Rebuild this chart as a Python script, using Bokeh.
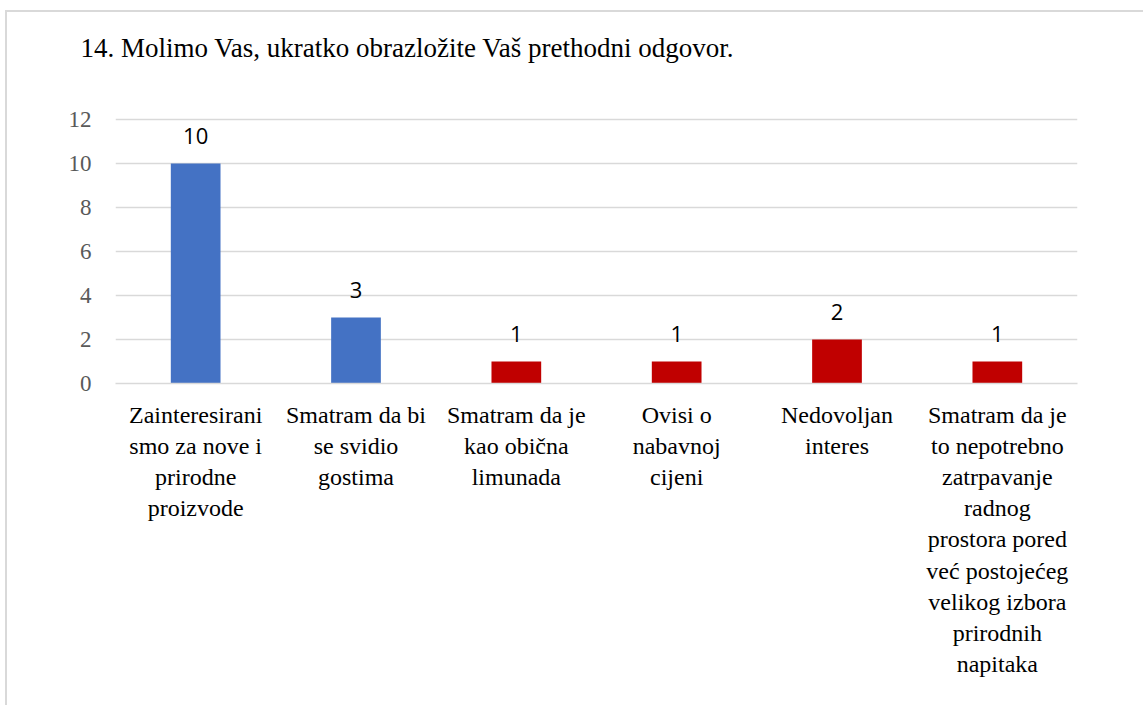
from bokeh.plotting import figure
from bokeh.models import FactorRange, Range1d, FixedTicker, ColumnDataSource
from bokeh.core.properties import value
from bokeh.embed import file_html
from bokeh.resources import INLINE

categories = [
    "Zainteresirani\nsmo za nove i\nprirodne\nproizvode",
    "Smatram da bi\nse svidio\ngostima",
    "Smatram da je\nkao obična\nlimunada",
    "Ovisi o\nnabavnoj\ncijeni",
    "Nedovoljan\ninteres",
    "Smatram da je\nto nepotrebno\nzatrpavanje\nradnog\nprostora pored\nveć postojećeg\nvelikog izbora\nprirodnih\nnapitaka",
]
values = [10, 3, 1, 1, 2, 1]
bar_colors = ["#4472C4", "#4472C4", "#C00000", "#C00000", "#C00000", "#C00000"]
y_ticks = [0, 2, 4, 6, 8, 10, 12]
title_text = "14. Molimo Vas, ukratko obrazložite Vaš prethodni odgovor."
SERIF = "Liberation Serif"

source = ColumnDataSource(dict(cat=categories, val=values, color=bar_colors,
                               lab=[str(v) for v in values]))

# frame extends above 12 so that the title sits at the top of the chart area
p = figure(x_range=FactorRange(*categories), y_range=Range1d(0, 14.32),
           width=1138, height=695, output_backend="svg", toolbar_location=None,
           min_border_left=108, min_border_right=68, min_border_top=56,
           min_border_bottom=324, title=title_text)

p.styles = {"margin-left": "5px", "margin-top": "10px",
            "border-left": "2px solid #d9d9d9", "border-top": "2px solid #d9d9d9"}
p.outline_line_color = None
p.background_fill_color = "white"
p.border_fill_color = "white"

p.title.text_font = SERIF
p.title.text_font_size = "27px"
p.title.text_font_style = "normal"
p.title.text_color = "#000000"
p.title.align = "left"
p.title.offset = -35
p.title.standoff = 12

p.vbar(x="cat", top="val", width=0.31, color="color", line_color=None, source=source)
p.text(x="cat", y="val", text="lab", source=source, text_align="center",
       text_baseline="alphabetic", y_offset=-28, text_font=value("Open Sans"),
       text_font_size="22px", text_color="#000000")

p.yaxis.ticker = FixedTicker(ticks=y_ticks)
p.yaxis.axis_line_color = None
p.yaxis.major_tick_line_color = None
p.yaxis.minor_tick_line_color = None
p.yaxis.major_label_text_font = SERIF
p.yaxis.major_label_text_font_size = "23px"
p.yaxis.major_label_text_color = "#595959"
p.yaxis.major_label_standoff = 18

p.xaxis.axis_line_color = "#d9d9d9"
p.xaxis.axis_line_width = 1.5
p.xaxis.major_tick_line_color = None
p.xaxis.minor_tick_line_color = None
p.xaxis.major_label_text_font = SERIF
p.xaxis.major_label_text_font_size = "24px"
p.xaxis.major_label_text_color = "#000000"
p.xaxis.major_label_standoff = 12
p.xaxis.major_label_orientation = "horizontal"

p.xgrid.grid_line_color = None
p.ygrid.grid_line_color = "#d9d9d9"
p.ygrid.grid_line_width = 1.5
p.x_range.range_padding = 0

open("out.html", "w").write(file_html(p, INLINE))
